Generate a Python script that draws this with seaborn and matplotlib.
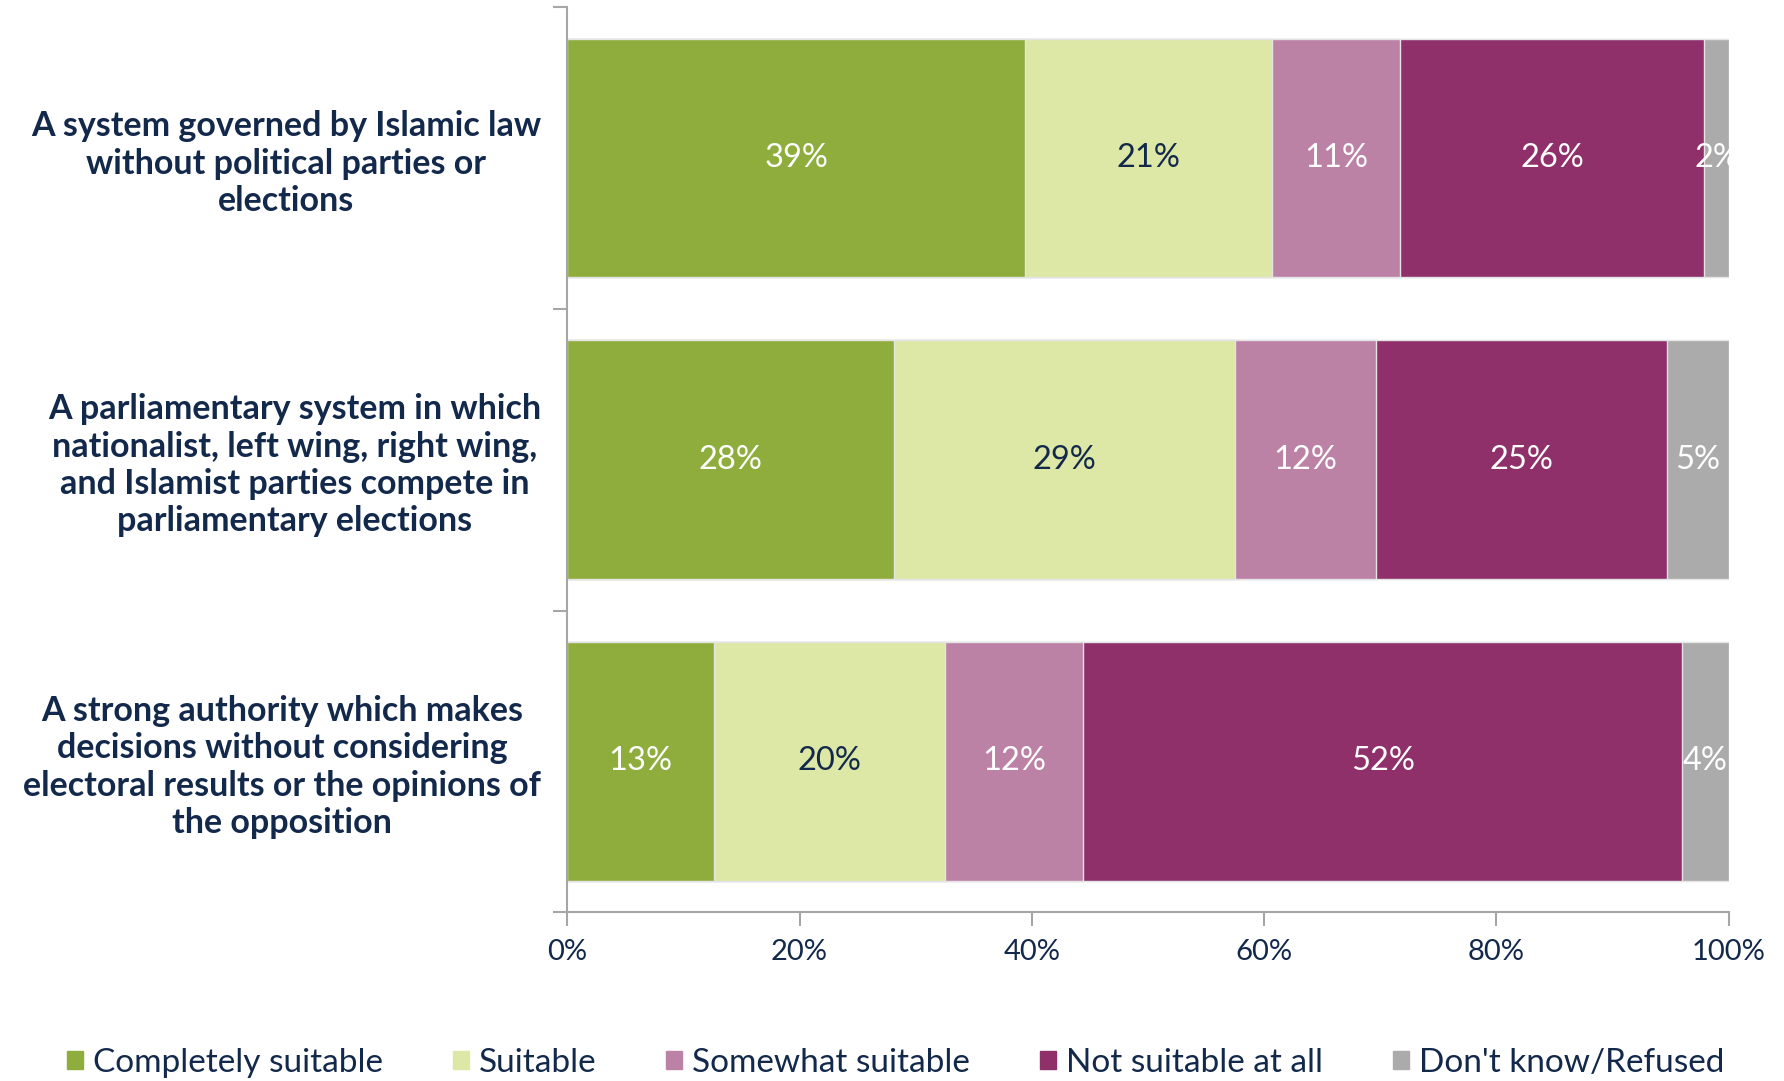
import numpy as np
import pandas as pd
import matplotlib.pyplot as plt
import seaborn as sns

# survey questions (y axis)
questions = [
    "A system governed by Islamic law\nwithout political parties or\nelections",
    "A parliamentary system in which\nnationalist, left wing, right wing,\nand Islamist parties compete in\nparliamentary elections",
    "A strong authority which makes\ndecisions without considering\nelectoral results or the opinions of\nthe opposition",
]
responses = ["Completely suitable", "Suitable", "Somewhat suitable",
             "Not suitable at all", "Don't know/Refused"]

# shares per response
completely = [39.4, 28.1, 12.6]
suitable = [21.3, 29.4, 19.9]
somewhat = [11.0, 12.1, 11.9]
not_at_all = [26.2, 25.1, 51.6]
dont_know = [2.1, 5.3, 4.0]

colors = ["#8fad3d", "#dde7a6", "#bb82a6", "#8f306b", "#ababab"]
label_colors = ["white", "#13294b", "white", "white", "white"]
navy = "#13294b"

sns.set_theme(style="white")
plt.rcParams["font.family"] = ["Lato", "DejaVu Sans"]

df = pd.DataFrame({"question": questions})
for name, vals in zip(responses, [completely, suitable, somewhat, not_at_all, dont_know]):
    df[name] = vals
cum = df[responses].cumsum(axis=1)

fig = plt.figure(figsize=(17.84, 10.81), dpi=100)
ax = fig.add_axes([0.318, 0.156, 0.651, 0.8375])

# stacked bars: draw cumulative totals from the back to the front
for i in reversed(range(len(responses))):
    sns.barplot(x=cum[responses[i]], y=df["question"], color=colors[i],
                orient="h", width=0.79, saturation=1, ax=ax,
                edgecolor="#e4e4e4", linewidth=1)

# segment labels
for i, r in enumerate(responses):
    left = cum[r] - df[r]
    for j, v in enumerate(df[r]):
        ax.text(left[j] + v / 2, j, f"{round(v)}%", ha="center", va="center",
                color=label_colors[i], fontsize=23.5)

ax.set_xlim(0, 100)
ax.set_ylim(2.5, -0.5)
ax.set_xticks(np.arange(0, 101, 20))
ax.set_xticklabels([f"{t}%" for t in range(0, 101, 20)], fontsize=21, color=navy)
ax.set_yticks([-0.5, 0.5, 1.5, 2.5])
ax.set_yticklabels([])
ax.set_yticks([0, 1, 2], minor=True)
ax.set_yticklabels(questions, minor=True, fontsize=24.5, fontweight="bold",
                   color=navy, ha="right", multialignment="center")
ax.tick_params(axis="y", which="minor", length=0, pad=19)
ax.tick_params(axis="y", which="major", length=10, width=1.5, color="#a6a6a6", direction="out", left=True)
ax.tick_params(axis="x", length=10, width=1.5, color="#a6a6a6", direction="out", bottom=True, pad=9)
ax.set_xlabel("")
ax.set_ylabel("")
for s in ["top", "right"]:
    ax.spines[s].set_visible(False)
for s in ["left", "bottom"]:
    ax.spines[s].set_color("#a6a6a6")
    ax.spines[s].set_linewidth(1.5)

handles = [plt.Rectangle((0, 0), 1, 1, color=c) for c in colors]
fig.legend(handles, responses, loc="lower center", bbox_to_anchor=(0.502, -0.025),
           ncol=5, frameon=False, fontsize=24, handlelength=0.48, handleheight=0.48,
           handletextpad=0.3, columnspacing=2.1, labelcolor=navy)

fig.savefig("out.png", dpi=100)
